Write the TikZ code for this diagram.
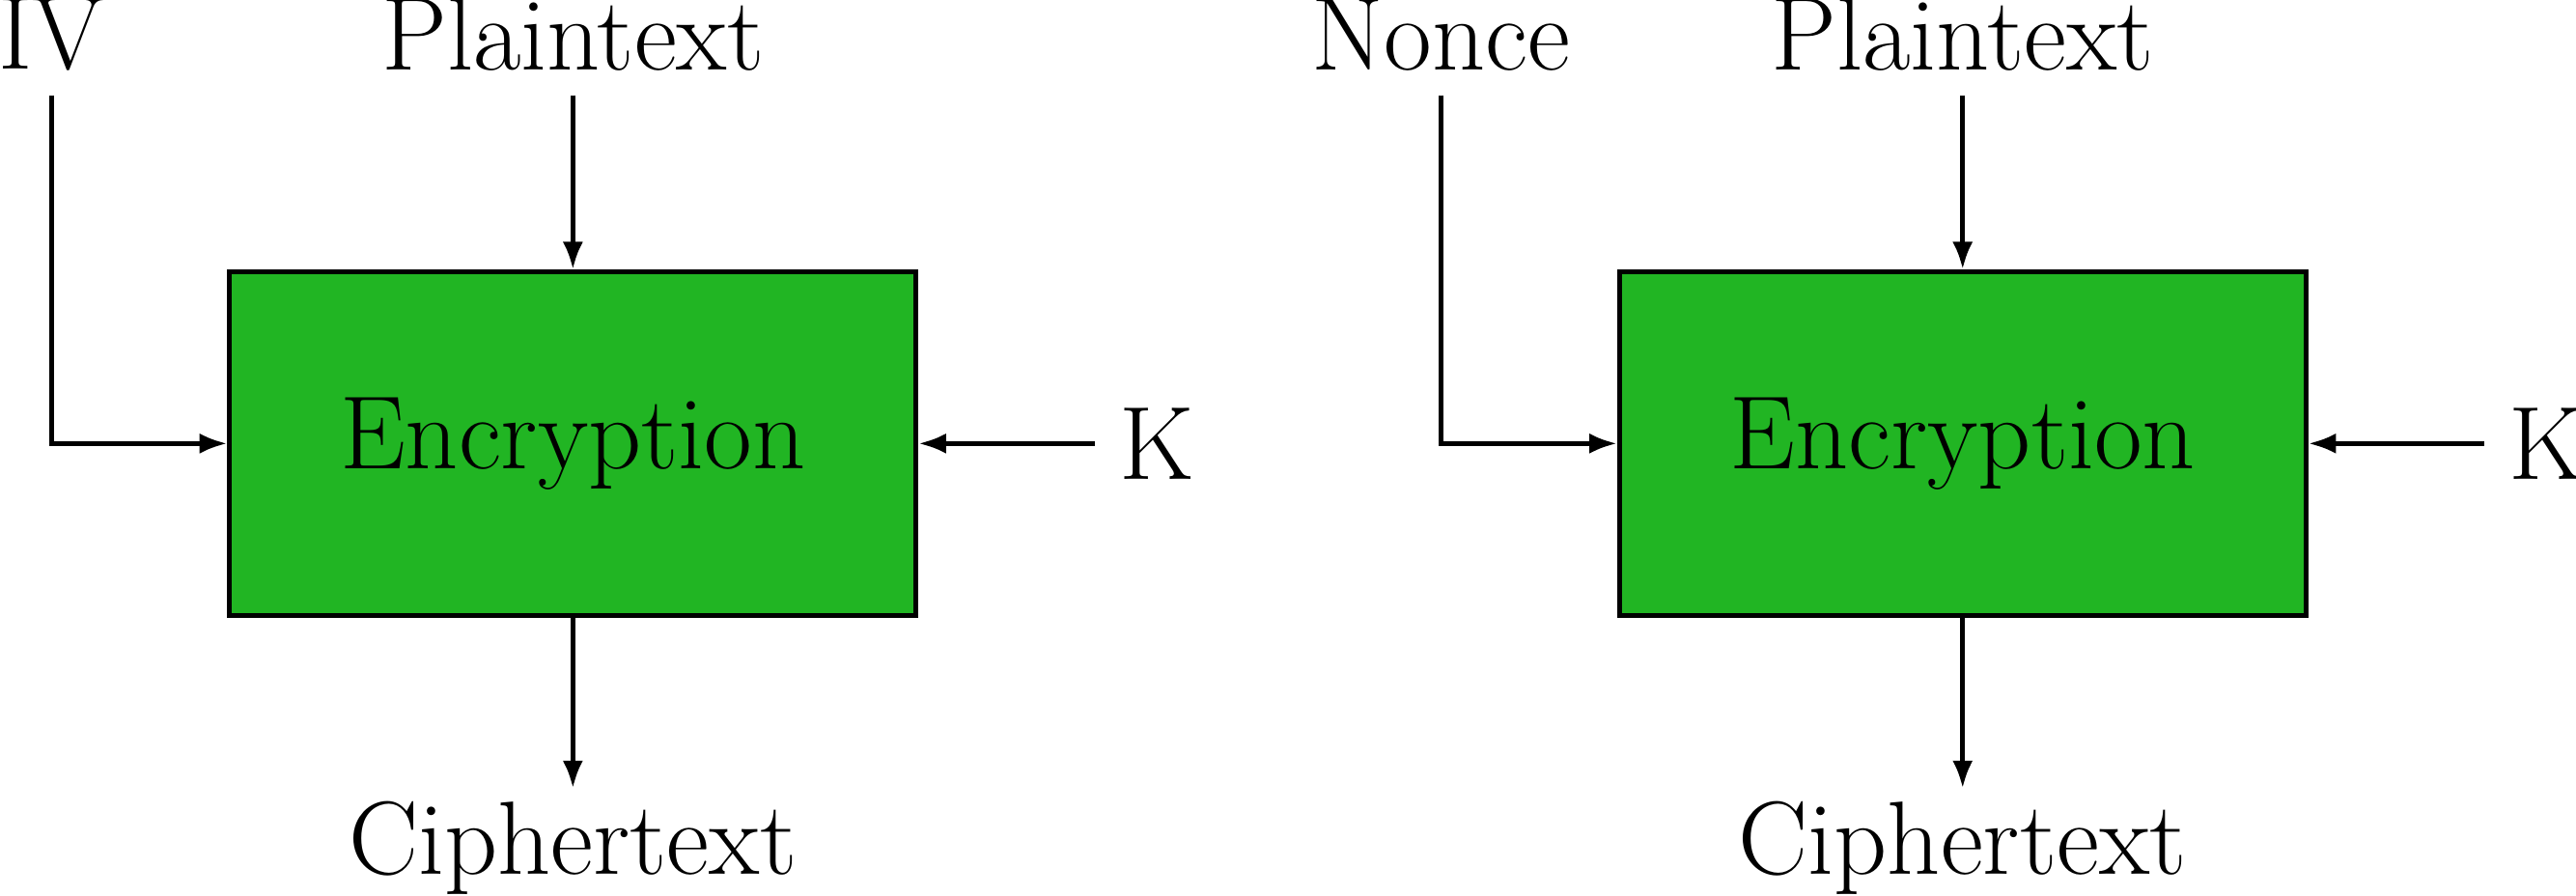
\documentclass[tikz,border=0pt]{standalone}
\usepackage[RGB]{xcolor}
\usepackage{tikz}
\usetikzlibrary{arrows.meta}
\definecolor{G}{RGB}{33,181,35}
\tikzset{
  encbox/.style={draw, thick, fill=G, minimum width=4cm, minimum height=2cm, font=\LARGE},
  lbl/.style={font=\LARGE, inner sep=3.9pt},
  flow/.style={thick, -{Latex[length=4.6pt,width=3.4pt]}}
}
\newcommand{\encblock}[3]{
  \node[encbox] (enc#2) at (#1,0) {Encryption};
  \node[lbl, anchor=south] (pt#2) at (#1,2.03) {Plaintext};
  \node[lbl, anchor=south] (in#2) at (#1-3.04,2.03) {#3};
  \node[lbl, anchor=west] (k#2) at (#1+3.04,0) {K};
  \node[lbl, anchor=north, inner sep=1.9pt] (ct#2) at (#1,-2.01) {Ciphertext};
  \draw[flow] (pt#2) -- (enc#2);
  \draw[flow] (in#2) |- (enc#2);
  \draw[flow] (k#2) -- (enc#2);
  \draw[flow] (enc#2) -- (ct#2);
}

\begin{document}
\begin{tikzpicture}
\useasboundingbox (-3.339,-2.632) rectangle (11.675,2.585);
\encblock{0}{1}{IV}
\encblock{8.1}{2}{Nonce}
\end{tikzpicture}
\end{document}
